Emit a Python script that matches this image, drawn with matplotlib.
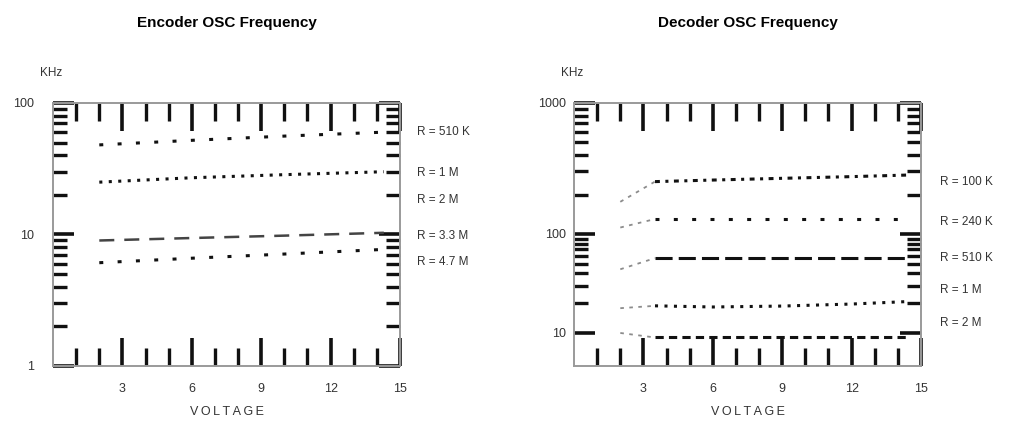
import numpy as np
import matplotlib
matplotlib.use("Agg")
import matplotlib.pyplot as plt
from matplotlib.ticker import FixedLocator, FuncFormatter

plt.rcParams['font.family'] = ['Liberation Sans', 'DejaVu Sans']

# ---- data ----
enc_volt = [2, 6, 10, 14.3]
enc_510k = [48, 52, 56, 60]
enc_1m = [25, 27, 28.5, 30]
enc_3m3 = [9.0, 9.4, 9.8, 10.3]
enc_4m7 = [6.1, 6.6, 7.1, 7.7]
enc_labels = ['R = 510 K', 'R = 1 M', 'R = 2 M', 'R = 3.3 M', 'R = 4.7 M']

dec_volt = [2, 3.5, 6, 9, 12, 14.5]
dec_100k = [176, 251, 258, 266, 274, 282]
dec_240k = [112, 130, 130, 130, 130, 130]
dec_510k = [44, 57, 57, 57, 57, 57]
dec_1m = [17.8, 18.8, 18.3, 18.7, 19.6, 20.8]
dec_2m = [10, 9, 9, 9, 9, 9]
dec_labels = ['R = 100 K', 'R = 240 K', 'R = 510 K', 'R = 1 M', 'R = 2 M']

x_ticks = [3, 6, 9, 12, 15]
x_minor = [1, 2, 4, 5, 7, 8, 10, 11, 13, 14]

ink = '#111111'
txt = '#333333'

fig = plt.figure(figsize=(10.14, 4.28), dpi=100)
ax1 = fig.add_axes([0.0523, 0.1449, 0.3422, 0.6145])
ax2 = fig.add_axes([0.5661, 0.1449, 0.3422, 0.6145])


def style_axes(ax, ypad):
    for s in ax.spines.values():
        s.set_color('#9a9a9a')
        s.set_linewidth(1.4)
    ax.set_xlim(0, 15)
    ax.xaxis.set_major_locator(FixedLocator(x_ticks))
    ax.xaxis.set_minor_locator(FixedLocator(x_minor))
    ax.tick_params(axis='x', which='major', direction='in', top=True, length=20,
                   width=2.6, color=ink, labelsize=9, labelcolor=txt, pad=12)
    ax.tick_params(axis='x', which='minor', direction='in', top=True, length=13,
                   width=2.4, color=ink)
    ax.tick_params(axis='y', which='major', direction='in', right=True, length=15,
                   width=2.6, color=ink, labelsize=9, labelcolor=txt, pad=ypad)
    ax.tick_params(axis='y', which='minor', direction='in', right=True, length=10,
                   width=2.4, color=ink)
    ax.yaxis.set_major_formatter(FuncFormatter(lambda v, p: '%g' % v))
    ax.yaxis.set_minor_formatter(FuncFormatter(lambda v, p: ''))
    ax.text(0.5, -0.175, '\u2009'.join('VOLTAGE'), transform=ax.transAxes,
            ha='center', va='center', fontsize=9, color=txt)
    ax.text(-0.005, 1.115, 'KHz', transform=ax.transAxes, ha='center',
            va='center', fontsize=8.5, color=txt)


# ---- encoder ----
ax1.set_yscale('log')
ax1.set_ylim(1, 100)
ax1.yaxis.set_major_locator(FixedLocator([1, 10, 100]))
ax1.yaxis.set_minor_locator(FixedLocator([m * d for d in (1, 10) for m in range(2, 10)]))
style_axes(ax1, 14)

ax1.plot(enc_volt, enc_510k, color=ink, lw=2.2, ls=(0, (1.3, 4.7)))
ax1.plot(enc_volt, enc_1m, color=ink, lw=2.2, ls=(0, (1, 2.1)))
ax1.plot(enc_volt, enc_3m3, color='#444444', lw=1.8, ls=(0, (6, 4)))
ax1.plot(enc_volt, enc_4m7, color=ink, lw=2.2, ls=(0, (1.3, 4.7)))
ax1.set_title('Encoder OSC Frequency', fontsize=11, fontweight='bold', pad=55)

for lab, yf in zip(enc_labels, [0.890, 0.734, 0.631, 0.494, 0.395]):
    ax1.text(1.05, yf, lab, transform=ax1.transAxes, ha='left', va='center',
             fontsize=8.5, color=txt)

# ---- decoder: the printed scale is uneven, decades drawn 99 / 131 px ----
knots_log = [0, 1, 2, 3, 4]
knots_pos = [-99, 0, 99, 230, 361]


def fwd(v):
    v = np.clip(np.asarray(v, dtype=float), 1e-9, None)
    return np.interp(np.log10(v), knots_log, knots_pos)


def inv(p):
    return 10 ** np.interp(np.asarray(p, dtype=float), knots_pos, knots_log)


ax2.set_yscale('function', functions=(fwd, inv))
ax2.set_ylim(4.64, 1000)
ax2.yaxis.set_major_locator(FixedLocator([10, 100, 1000]))
ax2.yaxis.set_minor_locator(FixedLocator([m * d for d in (10, 100) for m in range(2, 10)]))
style_axes(ax2, 6)

series = [(dec_100k, (0, (1.6, 1.8, 1, 1.8))),
          (dec_240k, (0, (1.3, 4.7))),
          (dec_510k, (0, (5.6, 2))),
          (dec_1m, (0, (1, 2.1))),
          (dec_2m, (0, (2.7, 1.7)))]
for vals, ls in series:
    ax2.plot(dec_volt[:2], vals[:2], color='#8c8c8c', lw=1.3, ls=(0, (2, 3)))
    ax2.plot(dec_volt[1:], vals[1:], color=ink, lw=2.2, ls=ls)
ax2.set_title('Decoder OSC Frequency', fontsize=11, fontweight='bold', pad=55)

for lab, yf in zip(dec_labels, [0.700, 0.548, 0.409, 0.289, 0.162]):
    ax2.text(1.055, yf, lab, transform=ax2.transAxes, ha='left', va='center',
             fontsize=8.5, color=txt)

fig.savefig('out.png', dpi=100)
